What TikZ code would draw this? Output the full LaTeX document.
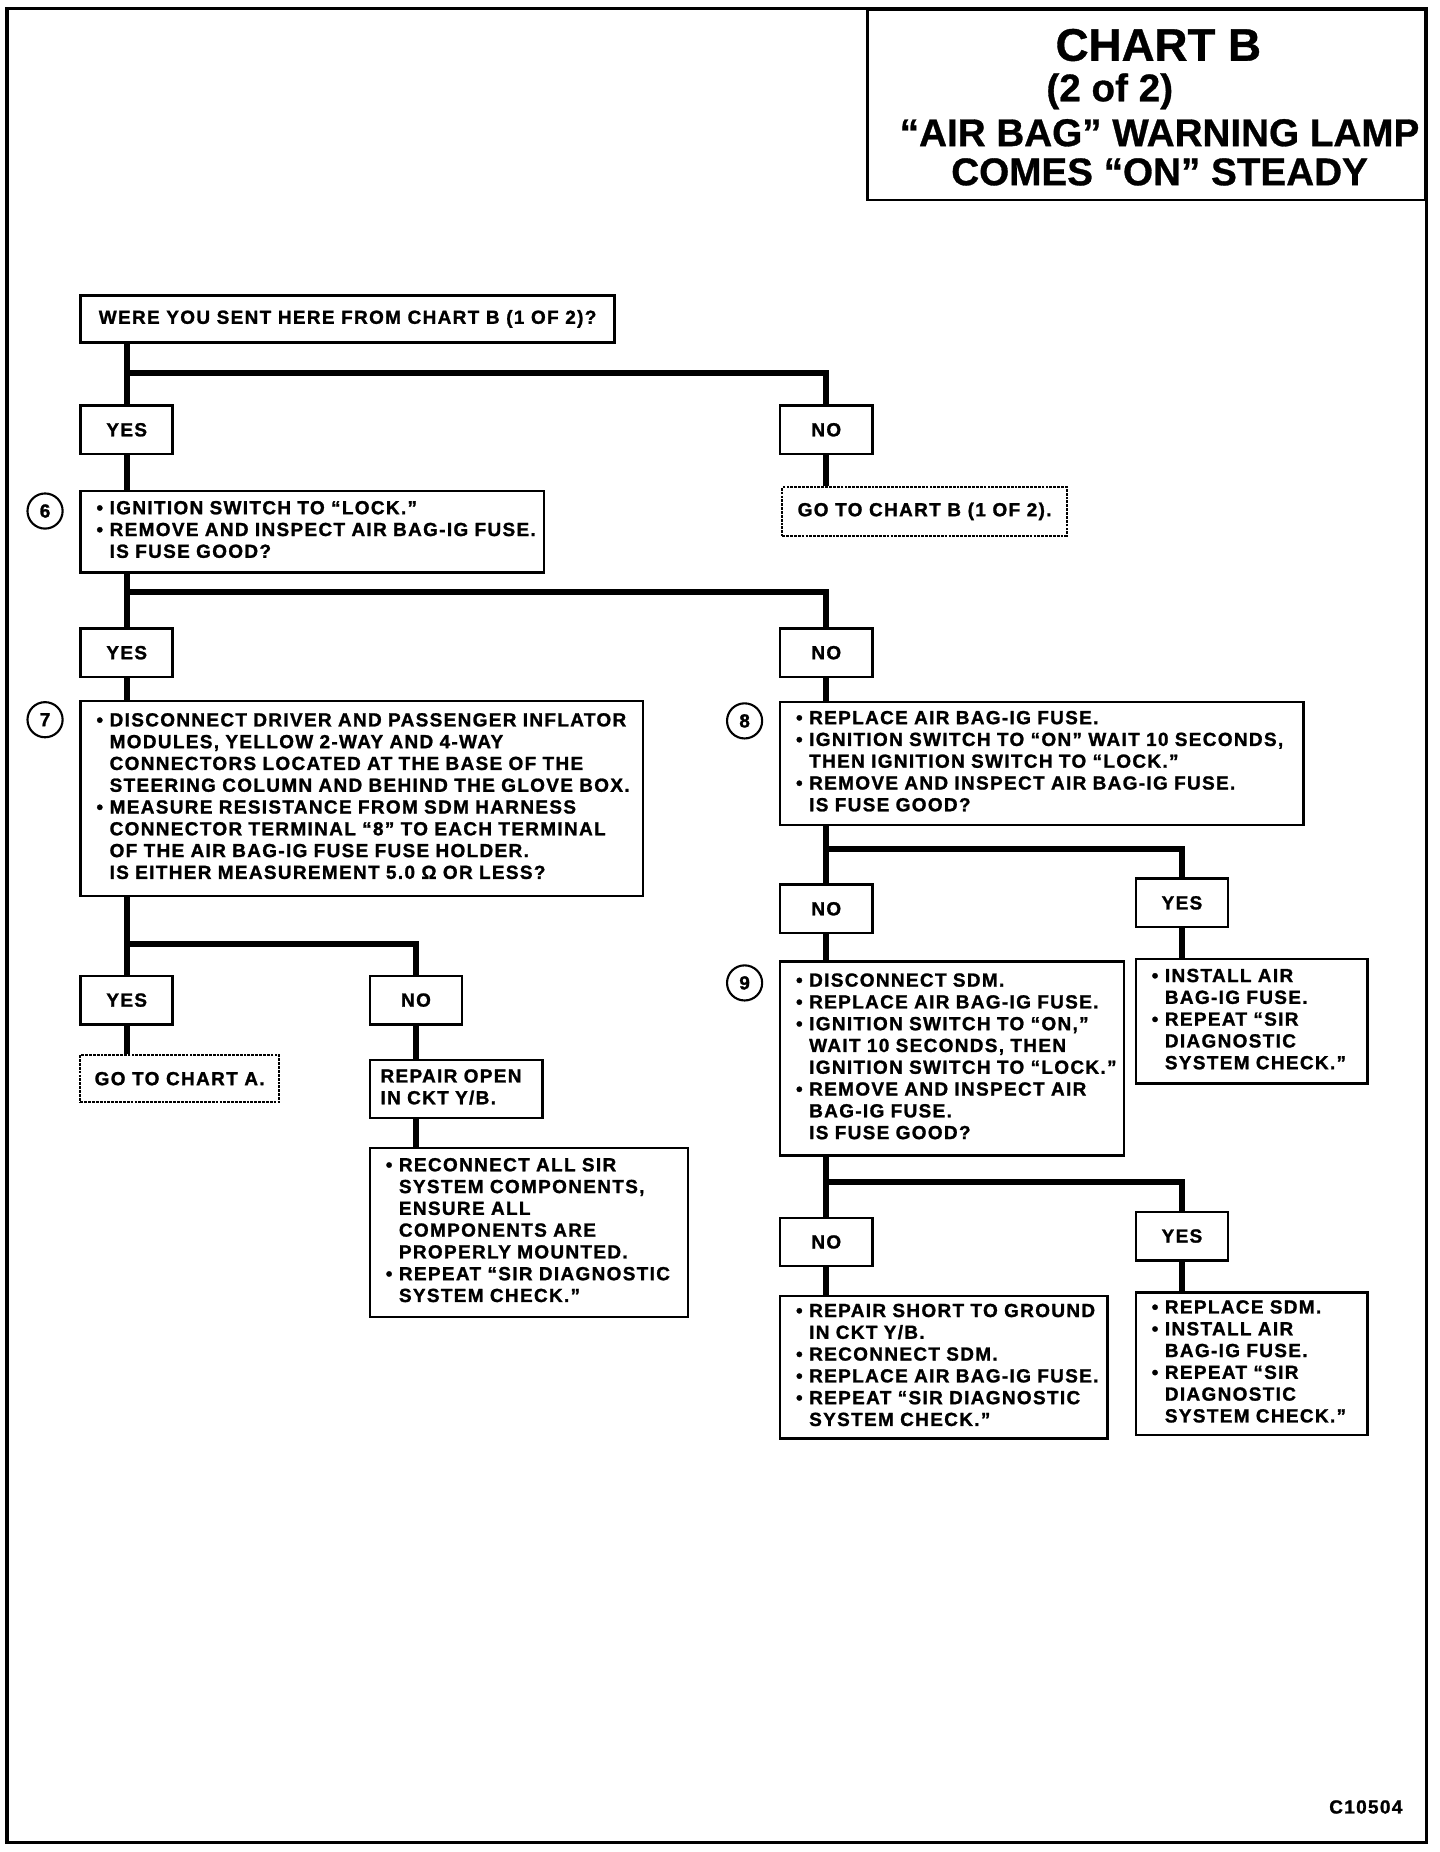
\documentclass[tikz,border=0pt]{standalone}
\usepackage{fontspec}
\setmainfont{Liberation Sans}[LetterSpace=7, BoldFeatures={FakeBold=1.3}]
\newfontfamily\titlefont{Liberation Sans}[BoldFeatures={FakeBold=0.8}]
\usetikzlibrary{calc}

% text helpers
\newcommand\boxfont{\fontsize{10.8}{12.4}\selectfont\bfseries}
\newcommand\bul{\makebox[10.5pt][l]{\hspace{3pt}\textbullet}}
\newcommand\indt{\hspace*{10.5pt}}
\newcommand\boxrows[1]{\begin{tabular}{@{}l@{}}#1\end{tabular}}

\begin{document}
\begin{tikzpicture}[x=0.2372mm, y=-0.2372mm,
    box/.style={draw, line width=1.4pt, anchor=north west, align=left,
      inner xsep=6pt, inner ysep=0pt, font=\boxfont},
    dotbox/.style={box, line width=1.1pt, dash pattern=on 1.6pt off 0.6pt},
    ans/.style={draw, line width=1.4pt, anchor=north west, inner sep=0pt,
      minimum width=52.4pt, minimum height=27.6pt, font=\boxfont},
    num/.style={draw, circle, line width=1.2pt, minimum size=20pt,
      inner sep=0pt, font=\boxfont},
    conn/.style={line width=3.4pt},
    title/.style={font={\titlefont\bfseries\fontsize{22}{26}\selectfont}}]

    \useasboundingbox (0,0) rectangle (1214,1562);

    % Frame and title block
    \draw[line width=2pt] (6,7) rectangle (1203,1554);
    \node[draw, line width=1.6pt, anchor=north east, minimum width=317.4pt,
      minimum height=108.3pt] (titlebox) at (1203,7) {};
    \node[title, font={\titlefont\bfseries\fontsize{26}{30}\selectfont}] (t1) at (977,38) {CHART B};
    \node[title] (t2) at (936,77) {(2 of 2)};
    \node[title] (t3) at (978,112) {“AIR BAG” WARNING LAMP};
    \node[title] (t4) at (978,145) {COMES “ON” STEADY};

    % Start
    \node[box, minimum width=303.9pt, minimum height=26.9pt] (start) at (67,248)
      {WERE YOU SENT HERE FROM CHART B (1 OF 2)?};
    \node[ans] (yes1) at (67,341) {YES};
    \node[ans] (no1) at (657,341) {NO};

    % Step 6
    \node[num] (c6) at (38,431) {6};
    \node[box, text width=251.6pt, minimum height=46.4pt] (q6) at (67,413)
      {\boxrows{\bul IGNITION SWITCH TO “LOCK.”\\
        \bul REMOVE AND INSPECT AIR BAG-IG FUSE.\\
        \indt IS FUSE GOOD?}};
    \node[dotbox, minimum width=162pt, minimum height=27.6pt] (goB) at (659,410)
      {GO TO CHART B (1 OF 2).};
    \node[ans] (yes2) at (67,529) {YES};
    \node[ans] (no2) at (657,529) {NO};

    % Step 7
    \node[num] (c7) at (38,607) {7};
    \node[box, text width=308.1pt, minimum height=111pt] (q7) at (67,590)
      {\boxrows{\bul DISCONNECT DRIVER AND PASSENGER INFLATOR\\
        \indt MODULES, YELLOW 2-WAY AND 4-WAY\\
        \indt CONNECTORS LOCATED AT THE BASE OF THE\\
        \indt STEERING COLUMN AND BEHIND THE GLOVE BOX.\\
        \bul MEASURE RESISTANCE FROM SDM HARNESS\\
        \indt CONNECTOR TERMINAL “8” TO EACH TERMINAL\\
        \indt OF THE AIR BAG-IG FUSE FUSE HOLDER.\\
        \indt IS EITHER MEASUREMENT 5.0 Ω OR LESS?}};
    \node[ans] (yes3) at (67,822) {YES};
    \node[ans] (no3) at (311,822) {NO};
    \node[dotbox, minimum width=113pt, minimum height=26.9pt] (goA) at (67,889)
      {GO TO CHART A.};
    \node[box, text width=86.2pt, minimum height=33pt] (openYB) at (311,893)
      {\boxrows{REPAIR OPEN\\ IN CKT Y/B.}};
    \node[box, text width=168.9pt, minimum height=96.2pt] (reconn) at (311,967)
      {\boxrows{\bul RECONNECT ALL SIR\\
        \indt SYSTEM COMPONENTS,\\
        \indt ENSURE ALL\\
        \indt COMPONENTS ARE\\
        \indt PROPERLY MOUNTED.\\
        \bul REPEAT “SIR DIAGNOSTIC\\
        \indt SYSTEM CHECK.”}};

    % Step 8
    \node[num] (c8) at (628,608) {8};
    \node[box, text width=285.9pt, minimum height=69.9pt] (q8) at (657,591)
      {\boxrows{\bul REPLACE AIR BAG-IG FUSE.\\
        \bul IGNITION SWITCH TO “ON” WAIT 10 SECONDS,\\
        \indt THEN IGNITION SWITCH TO “LOCK.”\\
        \bul REMOVE AND INSPECT AIR BAG-IG FUSE.\\
        \indt IS FUSE GOOD?}};
    \node[ans] (no4) at (657,745) {NO};
    \node[ans] (yes4) at (957,740) {YES};
    \node[box, text width=119.8pt, minimum height=70.6pt] (fuseok) at (957,808)
      {\boxrows{\bul INSTALL AIR\\
        \indt BAG-IG FUSE.\\
        \bul REPEAT “SIR\\
        \indt DIAGNOSTIC\\
        \indt SYSTEM CHECK.”}};

    % Step 9
    \node[num] (c9) at (628,829) {9};
    \node[box, text width=183.7pt, minimum height=110.3pt] (q9) at (657,810)
      {\boxrows{\bul DISCONNECT SDM.\\
        \bul REPLACE AIR BAG-IG FUSE.\\
        \bul IGNITION SWITCH TO “ON,”\\
        \indt WAIT 10 SECONDS, THEN\\
        \indt IGNITION SWITCH TO “LOCK.”\\
        \bul REMOVE AND INSPECT AIR\\
        \indt BAG-IG FUSE.\\
        \indt IS FUSE GOOD?}};
    \node[ans] (no5) at (657,1026) {NO};
    \node[ans] (yes5) at (957,1021) {YES};
    \node[box, text width=174.3pt, minimum height=81pt] (shortYB) at (657,1092)
      {\boxrows{\bul REPAIR SHORT TO GROUND\\
        \indt IN CKT Y/B.\\
        \bul RECONNECT SDM.\\
        \bul REPLACE AIR BAG-IG FUSE.\\
        \bul REPEAT “SIR DIAGNOSTIC\\
        \indt SYSTEM CHECK.”}};
    \node[box, text width=119.8pt, minimum height=81pt] (newsdm) at (957,1089)
      {\boxrows{\bul REPLACE SDM.\\
        \bul INSTALL AIR\\
        \indt BAG-IG FUSE.\\
        \bul REPEAT “SIR\\
        \indt DIAGNOSTIC\\
        \indt SYSTEM CHECK.”}};

    % Figure number
    \node[font=\boxfont, anchor=east] (fig) at (1188,1524) {C10504};

    % Connectors
    \draw[conn] (yes1.north |- start.south) -- coordinate[pos=0.49] (j1) (yes1.north);
    \draw[conn] (j1) -| (no1.north);
    \draw[conn] (yes1.south) -- (yes1.south |- q6.north);
    \draw[conn] (no1.south) -- (no1.south |- goB.north);

    \draw[conn] (yes2.north |- q6.south) -- coordinate[pos=0.34] (j2) (yes2.north);
    \draw[conn] (j2) -| (no2.north);
    \draw[conn] (yes2.south) -- (yes2.south |- q7.north);
    \draw[conn] (no2.south) -- (no2.south |- q8.north);

    \draw[conn] (yes3.north |- q7.south) -- coordinate[pos=0.61] (j3) (yes3.north);
    \draw[conn] (j3) -| (no3.north);
    \draw[conn] (yes3.south) -- (yes3.south |- goA.north);
    \draw[conn] (no3.south) -- (no3.south |- openYB.north);
    \draw[conn] (no3.south |- openYB.south) -- (no3.south |- reconn.north);

    \draw[conn] (no4.north |- q8.south) -- coordinate[pos=0.4] (j4) (no4.north);
    \draw[conn] (j4) -| (yes4.north);
    \draw[conn] (no4.south) -- (no4.south |- q9.north);
    \draw[conn] (yes4.south) -- (yes4.south |- fuseok.north);

    \draw[conn] (no5.north |- q9.south) -- coordinate[pos=0.42] (j5) (no5.north);
    \draw[conn] (j5) -| (yes5.north);
    \draw[conn] (no5.south) -- (no5.south |- shortYB.north);
    \draw[conn] (yes5.south) -- (yes5.south |- newsdm.north);

\end{tikzpicture}
\end{document}
